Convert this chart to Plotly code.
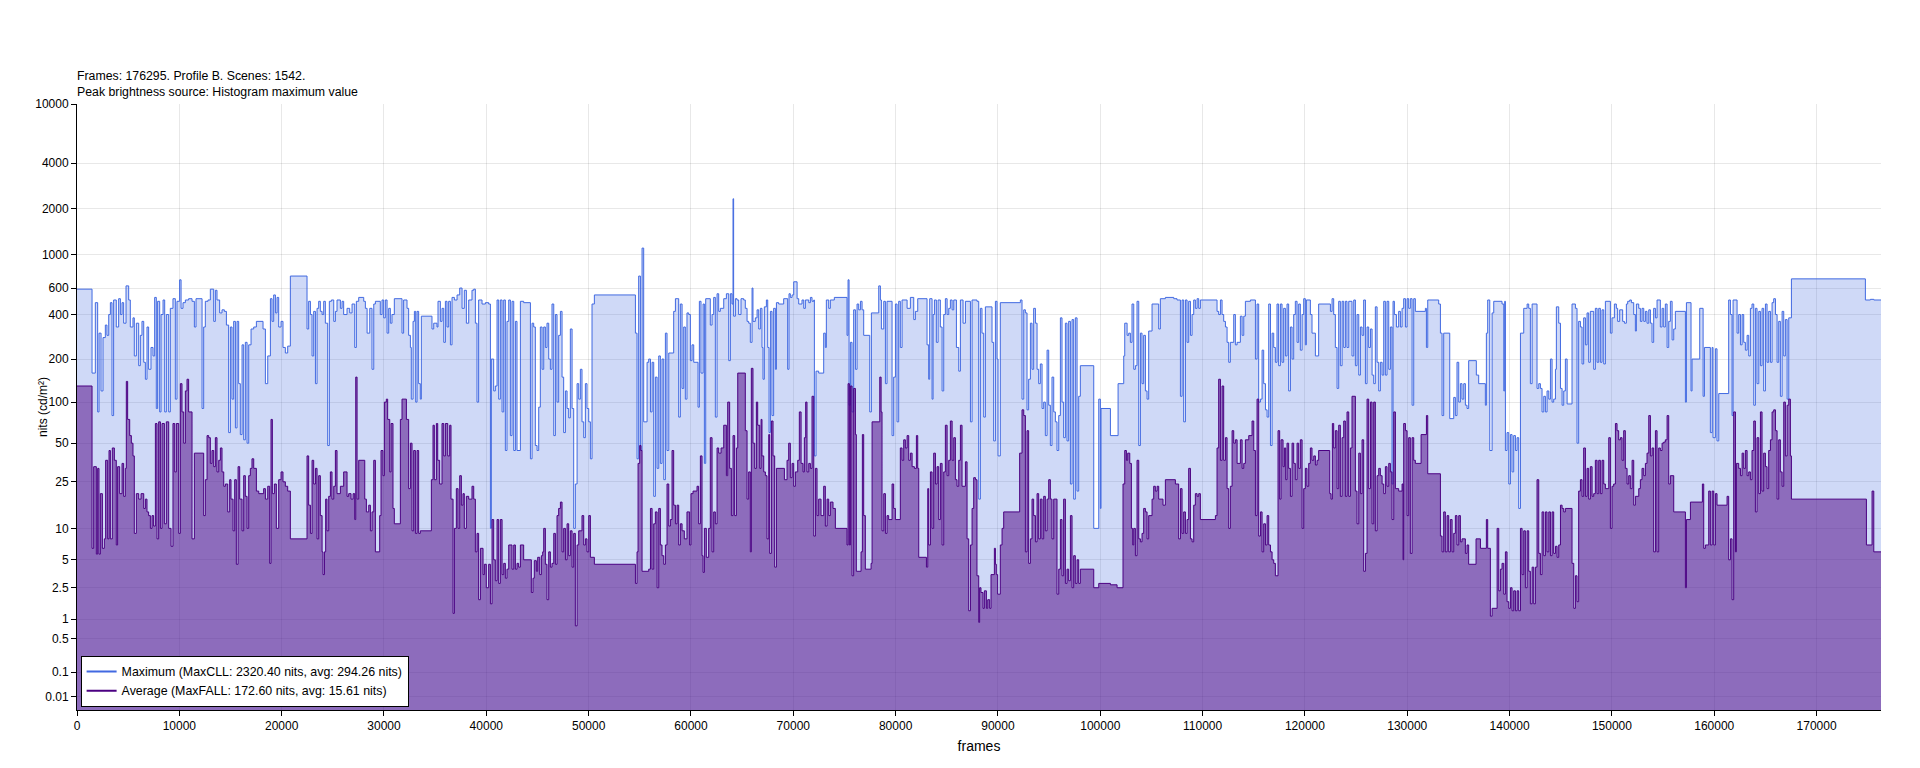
import numpy as np
import plotly.graph_objects as go

# ---- data (frame where a scene starts, nits) ----
total_frames = 176295
title_lines = ["Frames: 176295. Profile B. Scenes: 1542.",
               "Peak brightness source: Histogram maximum value"]
max_name = "Maximum (MaxCLL: 2320.40 nits, avg: 294.26 nits)"
avg_name = "Average (MaxFALL: 172.60 nits, avg: 15.61 nits)"

max_frames = [
    0, 1470, 1790, 2020, 2150, 2350, 2540, 2770, 2930, 3100, 3260, 3420, 3580, 3840, 4070, 4240, 4400, 4560,
    4790, 5050, 5210, 5470, 5600, 5800, 6030, 6190, 6350, 6520, 6680, 6840, 7000, 7230, 7430, 7590, 7750,
    7880, 8080, 8210, 8410, 8570, 8730, 8960, 9120, 9380, 9610, 9770, 10030, 10170, 10360, 10590, 10910,
    11240, 11470, 11630, 12220, 12380, 12540, 12800, 13030, 13360, 13520, 13680, 13940, 14170, 14400, 14600,
    14820, 14990, 15150, 15310, 15480, 15640, 15800, 15960, 16130, 16290, 16450, 16620, 16780, 17010, 17270,
    17530, 18180, 18410, 18640, 18900, 19060, 19220, 19390, 19550, 19710, 19940, 20130, 20360, 20590, 20850,
    22480, 22640, 22810, 22970, 23130, 23300, 23460, 23620, 23780, 23950, 24110, 24270, 24500, 24660, 24860,
    25090, 25250, 25410, 25740, 25900, 26060, 26390, 26650, 26880, 27140, 27300, 27530, 28020, 28180, 28350,
    28610, 28830, 29000, 29160,
    29320, 29640, 29810, 29970, 30130, 30300, 30460, 30620, 30780, 31010, 31760, 31920, 32250, 32410, 32580,
    32670, 32840, 32970, 33100, 33230, 33390, 33550, 33650, 34690, 34860, 35180, 35280, 35510, 35670, 35840,
    36000, 36160, 36320, 36490, 36650, 36880, 37140, 37400, 37630, 37850, 38050, 38280, 38600, 38770, 38930,
    39090, 39250, 39580, 39910, 40230, 40400, 40490, 40720, 40880, 41050, 41210, 41370, 41540, 41700, 41860,
    42020, 42190, 42350, 42510, 42680, 42840, 43000, 43330, 43650, 44310, 44470, 44630, 44790, 44960, 45120,
    45280, 45450, 45610, 45770, 45930, 46100, 46260, 46420, 46590, 46750, 46910, 47070, 47240, 47400, 47560,
    47730, 47890, 48050, 48210, 48380, 48540, 48700, 48870, 49030, 49190, 49350, 49520, 49680, 49840, 50010,
    50170, 50330, 50560, 54570, 54730, 54890, 55060, 55220, 55380, 55710, 55870, 56040, 56200, 56360, 56520,
    56690, 56850, 57010, 57170, 57340, 57500, 57660, 57830, 58310, 58480,
    58640, 58800, 58960, 59130, 59290, 59450, 59610, 59780, 59940, 60100, 60270, 60690, 60820, 60980, 61180,
    61310, 61440, 61890, 62060, 62220, 62380, 62550, 62710, 62870, 63200, 63460, 63690, 63850, 64010, 64110,
    64170, 64340, 64500, 64660, 64890, 65150, 65310, 65480, 65640, 65800, 65970, 66060, 66290, 66460, 66620,
    66780, 66940, 67040, 67170, 67370, 67500, 67630, 67760, 67920, 68080, 68250, 68350, 68570, 69060, 69450,
    69580, 69710, 69880, 70040, 70370, 70530, 70850, 71020, 71180, 71510, 71670, 71830, 72000, 72060, 72220,
    72480, 72970, 73130, 73230, 73460, 73620, 74010, 75250, 75350, 75450, 75580, 75740, 75900, 76070, 76230,
    76390, 76560, 76720, 76880, 77470, 77630, 78350, 78510, 78610, 78840, 79000, 79160, 79650, 79810, 79980,
    80140, 80300, 80460, 80630, 81120, 81440, 81770, 81930, 82160, 83070, 83230, 83330, 83560, 83660, 83790,
    83980, 84150, 84370, 84540, 84700, 84860, 85030, 85190, 85350, 85520, 85680, 85940, 86170, 86330, 86590,
    86820, 87310, 87470,
    87950, 88120, 88280, 88440, 88610, 88770, 89420, 89580, 89750, 89910, 90010, 90230, 92190, 92350, 92520,
    92680, 92840, 93000, 93170, 93330, 93490, 93660, 93820, 93980, 94140, 94310, 94470, 94630, 94800, 94960,
    95120, 95280, 95450, 95610, 95770, 95940, 96100, 96260, 96420, 96590, 96750, 96910, 97080, 97240, 97400,
    97560, 97730, 97890, 98050, 99360, 99850, 100010, 100070, 100990, 101740, 102290, 102390, 102620, 102780,
    102940, 103100, 103270, 103430, 103590, 103760, 103920, 104080, 104240, 104410, 104570, 104730, 105060,
    105710, 105870, 106360, 107180, 107500, 107830, 107990, 108150, 108320, 108480, 108640, 108810, 108970,
    109130, 109290, 109460, 109620, 109780, 111410, 111570, 111740, 111900, 112060, 112230, 112390, 112550,
    112710, 113040, 113200, 113370, 113690, 113860, 114020, 114180, 114670, 115160, 115320, 115480, 115650,
    115810, 115970, 116140, 116300, 116460, 116630, 116790, 116950, 117110,
    117270, 117430, 117600, 117760, 117920, 118090, 118250, 118410, 118580, 118740, 118900, 119060, 119230,
    119390, 119550, 119720, 119880, 120040, 120140, 120530, 120690, 121020, 121340, 122490, 122650, 122810,
    122970, 123140, 123300, 123460, 123630, 123790, 123950, 124110, 124280, 124600, 124770, 124930, 125090,
    125260, 125420, 125580, 125740, 125910, 126070, 126230, 126400, 126560, 126720, 126880, 127050, 127210,
    127370, 127540, 127700, 127860, 128020, 128190, 128350, 128510, 128610, 128740, 128940, 129160, 129330,
    129490, 129650, 129820, 129980, 130140, 130300, 130470, 130630, 130790, 131770, 131870, 132000, 133070,
    133240, 133400, 133560, 134150, 134540, 134700, 134860, 135030, 135190, 135350, 135520, 135680, 135840,
    136000, 136750, 136980, 137630, 137730, 137860, 138060, 138290, 138450, 139260, 139430, 139520, 139590,
    139750, 139920, 140080, 140240, 140400, 140570, 140730, 140890, 141060, 141380, 141710, 141870, 142030,
    142200, 142680, 142850, 143010, 143170, 143340, 143500, 143660, 143830, 143990, 144150, 144310, 144480,
    144570, 144800, 144970, 145130, 145290, 145450, 145620, 146100, 146430,
    146590, 146750, 146920, 147080, 147240, 147410, 147570, 147730, 147890, 148220, 148380, 148550, 148710,
    148870, 149030, 149200, 149360, 149850, 150010, 150240, 150430, 150560, 150760, 151050, 151220, 151410,
    151540, 151740, 151900, 152130, 152290, 152390, 152620, 152780, 152940, 153110, 153270, 153430, 153600,
    153760, 153920, 154080, 154250, 154410, 154730, 154900, 155060, 155220, 155390, 155550, 155710, 155880,
    156040, 156200, 157180, 157280, 157730, 157830, 158580, 158910, 159040, 159620, 159790, 159880, 160110,
    160270, 160440, 161410, 161580, 161740, 161840, 162230, 162390, 162560, 162720, 162880, 163040, 163210,
    163370, 163530, 163690, 163860, 164020, 164180, 164350, 164510, 164670, 164830, 165000, 165160, 165320,
    165490, 165650, 165810, 165980, 166140, 166300, 166460, 166630, 166790, 166950, 167120, 167280, 167540,
    174770, 175260, 175590, 176295,
]
max_nits = [
    590, 160, 480, 85, 300, 120, 280, 340, 290, 400, 480, 80, 500, 330, 510, 400, 480, 350,
    620, 500, 330, 380, 210, 350, 180, 290, 360, 190, 145, 330, 170, 240, 210, 520, 90,
    490, 85, 400, 500, 85, 400, 85, 440, 510, 105, 490, 680, 440, 480, 500, 510,
    490, 330, 510, 90, 330, 490, 500, 590, 360, 580, 500, 410, 430, 420, 340,
    60, 330, 105, 360, 65, 360, 135, 58, 250, 53, 260, 50, 250, 320, 330,
    360, 320, 135, 210, 510, 360, 540, 410, 520, 330, 360, 240, 220, 245, 720,
    320, 490, 400, 210, 420, 135, 440, 490, 420, 400, 490, 350, 48, 490, 500,
    360, 420, 500, 440, 490, 400, 440, 410, 470, 240, 490, 520, 490, 440, 300,
    440, 170, 470, 490,
    490, 400, 500, 380, 500, 300, 440, 350, 400, 510, 300, 500, 440, 290, 240,
    105, 360, 420, 100, 420, 135, 105, 390, 320, 350, 330, 490, 360, 440, 260,
    490, 330, 490, 250, 520, 500, 540, 600, 440, 580, 350, 500, 580, 590, 350,
    100, 500, 470, 480, 470, 10, 200, 120, 130, 500, 105, 500, 85, 500, 44,
    360, 500, 57, 490, 44, 360, 44, 490, 480, 38, 350, 330, 48, 44, 92,
    330, 170, 330, 240, 350, 200, 170, 470, 57, 400, 100, 290, 420, 150, 60,
    120, 90, 77, 320, 90, 10, 24, 135, 105, 170, 72, 55, 135, 90, 72,
    38, 470, 540, 300, 38, 720, 44, 1100, 72, 190, 200, 85, 190, 19, 150,
    32, 210, 35, 200, 26, 300, 44, 220, 420, 510,
    510, 78, 470, 125, 330, 105, 410, 400, 195, 250, 190, 92, 490, 160, 470,
    35, 510, 340, 400, 520, 78, 550, 420, 440, 510, 550, 195, 550, 470, 2320.4,
    390, 510, 500, 400, 510, 500, 440, 360, 350, 260, 600, 360, 380, 430, 320,
    440, 240, 145, 450, 500, 240, 60, 420, 80, 440, 170, 480, 470, 510, 170,
    550, 520, 540, 660, 510, 470, 500, 440, 500, 480, 520, 490, 500, 40, 165,
    160, 300, 240, 500, 440, 500, 520, 290, 680, 95, 260, 85, 430, 170, 470,
    430, 490, 430, 290, 85, 410, 620, 500, 320, 490, 135, 490, 57, 150, 470,
    72, 490, 240, 500, 440, 520, 370, 420, 510, 250, 145, 510, 105, 400, 500,
    260, 500, 330, 120, 400, 510, 400, 440, 500, 430, 500, 240, 165, 500, 350,
    490, 72, 500,
    490, 18, 440, 300, 78, 450, 260, 52, 490, 200, 40, 480, 500, 105, 430,
    410, 88, 145, 350, 170, 440, 350, 170, 135, 185, 90, 100, 57, 230, 95,
    48, 150, 85, 72, 44, 80, 380, 100, 55, 350, 52, 360, 24, 370, 18,
    380, 21, 110, 180, 10, 105, 15, 90, 57, 135, 210, 350, 290, 300,
    260, 470, 170, 180, 490, 48, 300, 135, 290, 120, 105, 310, 470,
    320, 510, 520, 510, 500, 110, 500, 72, 500, 260, 490, 290, 400,
    500, 440, 510, 440, 500, 420, 400, 500, 400, 360, 330, 260, 190,
    260, 400, 250, 260, 390, 290, 390, 490, 500, 200, 470, 100, 105,
    230, 135, 88, 78, 470, 48, 300, 240, 190,
    470, 180, 470, 190, 440, 210, 470, 120, 330, 200, 400, 490, 260,
    470, 230, 400, 510, 250, 500, 400, 300, 210, 470, 420, 510, 400,
    240, 125, 490, 180, 490, 240, 490, 240, 490, 210, 500, 180, 400,
    155, 330, 290, 500, 135, 330, 240, 320, 155, 135, 450, 190, 120,
    190, 155, 490, 155, 490, 170, 330, 24, 490, 400, 330, 420, 330,
    440, 510, 330, 510, 440, 510, 95, 510, 420, 440, 240, 500, 470,
    300, 80, 300, 76, 108, 80, 190, 100, 135, 105, 135, 95, 90,
    195, 155, 135, 95, 300, 500, 44, 410, 490, 470, 120, 490, 44,
    60, 24, 58, 30, 57, 44, 55, 15, 300, 440, 470, 440, 135,
    470, 125, 135, 125, 85, 110, 85, 120, 105, 200, 100, 105, 170,
    450, 350, 125, 95, 120, 200, 97, 470, 440,
    50, 360, 330, 185, 380, 250, 410, 190, 420, 170, 440, 190, 440,
    190, 430, 185, 490, 300, 380, 470, 440, 360, 430, 360, 350, 470,
    490, 500, 480, 400, 310, 470, 440, 360, 440, 360, 420, 350, 430,
    350, 260, 440, 380, 500, 330, 440, 330, 470, 240, 360, 490, 270,
    320, 420, 100, 480, 120, 200, 440, 110, 240, 60, 240, 55, 235,
    52, 115, 500, 400, 80, 500, 300, 400, 250, 400, 260, 230, 290,
    210, 440, 470, 95, 440, 135, 420, 180, 440, 120, 470, 190, 420,
    190, 480, 510, 400, 190, 360, 110, 420, 210, 370, 105, 380, 690,
    500, 505, 500, 500,
]

avg_frames = [
    0, 1470, 1630, 1890, 2020, 2150, 2280, 2480, 2670, 2800, 3000, 3130, 3260, 3450, 3650, 3840, 3970, 4170,
    4400, 4560, 4720, 4820, 4950, 5150, 5310, 5470, 5600, 5800, 6030, 6260, 6520, 6680, 6840, 7000, 7170,
    7330, 7490, 7660, 7820, 7980, 8150, 8310, 8540, 8730, 8960, 9190, 9380, 9550, 9710, 9940, 10100, 10260,
    10430, 10590, 10750, 10910, 11240, 11470, 12380, 12540, 12710, 12870, 13030, 13190, 13360, 13520, 13680,
    13850, 14010, 14170, 14340, 14500, 14730, 14920, 15050, 15250, 15410, 15570, 15740, 15900, 16130, 16290,
    16450, 16620, 16780, 16940, 17100, 17270, 17530, 17760, 18240, 18410, 18640, 18830, 18960, 19090, 19290,
    19480, 19710, 19940, 20130, 20360, 20590, 20850, 22480, 22640, 22810, 22970, 23130, 23300, 23460, 23620,
    23780, 23950, 24040, 24180, 24300, 24430, 24600, 24760, 24920, 25090, 25250, 25410, 25740, 26060, 26390,
    26550, 26780, 26980, 27140, 27240, 27370, 27530, 27950, 28120, 28280, 28510, 28670, 28830, 29000, 29160,
    29320, 29580, 29710, 29900, 30040, 30230, 30360, 30560, 30690, 30880, 31010, 31600, 31760, 32190, 32410,
    32580, 32740, 32900, 33070, 33230, 33390, 33550, 34630, 34790, 34920, 35120, 35250, 35440, 35670, 35840,
    36000, 36230, 36420, 36550, 36750, 36880, 37070, 37240, 37400, 37560, 37720, 37850, 38050, 38280, 38600,
    38770, 38930, 39090, 39250, 39420, 39680, 39810, 40000, 40230, 40400, 40560, 40720, 40880, 41050, 41210,
    41370, 41540, 41700, 41860, 42020, 42190, 42510, 42680, 42840, 43000, 43160, 43330, 43650, 44400, 44560,
    44690, 44890, 45020, 45220, 45380, 45510, 45610, 45770, 45930, 46100, 46260, 46420, 46590, 46750, 46910,
    47070, 47240, 47400, 47560, 47730, 47890, 48050, 48210, 48380, 48540, 48700, 48870, 49030, 49350, 49520,
    49680, 49840, 50010, 50170, 50560, 54570, 54730, 54830, 54990, 55120, 55220, 55870, 56040, 56200, 56360,
    56520, 56690, 56850, 57010, 57170, 57340, 57500, 57660, 57830, 57990, 58150, 58310, 58480,
    58640, 58800, 58960, 59130, 59350, 59610, 59870, 60000, 60200, 60590, 60750, 60920, 61080, 61180, 61310,
    61500, 61730, 61890, 62060, 62220, 62380, 62550, 62710, 62940, 63200, 63460, 63590, 63780, 63950, 64110,
    64270, 64440, 64570, 65310, 65480, 65640, 65800, 65900, 66060, 66230, 66390, 66520, 66720, 66850, 66940,
    67110, 67270, 67430, 67600, 67690, 67860, 68020, 68180, 68350, 69130, 69390, 69550, 69710, 69880, 70040,
    70200, 70430, 70590, 70760, 70950, 71080, 71210, 71340, 71510, 71670, 71830, 72000, 72160, 72320, 72480,
    72710, 72970, 73130, 73300, 73460, 73620, 73880, 74110, 75250, 75350, 75480, 75580, 75740, 75900, 76070,
    76160, 76620, 76750, 76880, 77040, 77600, 77700, 78450, 78580, 78670, 78840, 79000, 79160, 79320, 79650,
    79810, 79980, 80460, 80630, 80790, 80950, 81120, 81280, 81440, 81610, 81830, 82030, 82160, 82260, 83010,
    83140, 83230, 83400, 83560, 83720, 83890, 84050, 84210, 84370, 84540, 84700, 84860, 85030, 85190, 85350,
    85520, 85680, 85840, 86000, 86170, 86330, 86490, 86820, 86980, 87140, 87310, 87470, 87630, 87800,
    87950, 88120, 88210, 88340, 88540, 88670, 88870, 89000, 89190, 89320, 89650, 89750, 89840, 89970, 90230,
    90400, 90560, 92120, 92350, 92520, 92680, 92840, 93000, 93170, 93330, 93490, 93660, 93820, 93980, 94140,
    94310, 94470, 94630, 94800, 94960, 95120, 95280, 95450, 95770, 95940, 96100, 96260, 96420, 96590, 96750,
    96910, 97080, 97240, 97400, 97560, 97730, 97890, 98050, 99360, 99850, 100990, 101640, 102220, 102390,
    102550, 102680, 102880, 103040, 103170, 103270, 103430, 103590, 103760, 103920, 104080, 104240, 104410,
    104570, 104730, 105060, 105220, 105380, 105550, 105710, 106130, 106360, 107340, 107660, 107830, 107990,
    108150, 108320, 108480, 108640, 108810, 108970, 109130, 109290, 109460, 109620, 109780, 111250, 111410,
    111570, 111740, 111900, 112060, 112230, 112390, 112550, 112710, 112880, 113040, 113200, 113370, 113690,
    113860, 114020, 114180, 114510, 114830, 115000, 115160, 115320, 115480, 115650, 115810, 115970, 116140,
    116300, 116460, 116630, 116790, 116950, 117110,
    117270, 117370, 117530, 117660, 117860, 117990, 118120, 118250, 118410, 118580, 118740, 118900, 119060,
    119230, 119390, 119550, 119720, 119880, 120040, 120200, 120370, 120530, 120690, 120860, 121020, 121180,
    121340, 122420, 122550, 122680, 122810, 122970, 123140, 123300, 123460, 123630, 123790, 123950, 124110,
    124280, 124440, 124600, 124930, 125090, 125260, 125420, 125580, 125740, 125910, 126070, 126230, 126400,
    126560, 126720, 126880, 127050, 127210, 127370, 127540, 127700, 127860, 128020, 128190, 128350, 128510,
    128680, 128840, 129160, 129490, 129590, 129650, 129820, 129980, 130140, 130300, 130470, 130630, 130790,
    131350, 131870, 132000, 133240, 133400, 133560, 133720, 133890, 134050, 134210, 134380, 134540, 134700,
    134860, 135030, 135190, 135350, 135680, 135840, 136000, 136720, 137150, 137730, 137860, 138120, 138290,
    138780, 138940, 139100, 139260, 139430, 139590, 139750, 139920, 140080, 140240, 140400, 140570, 140730,
    140890, 141060, 141220, 141380, 141540, 141710, 141870, 142030, 142200, 142360, 142520, 142680, 142850,
    143010, 143170, 143340, 143500, 143660, 143830, 143990, 144150, 144310, 144480, 144640, 144800, 144970,
    145130, 145290, 145450, 146100, 146270, 146430,
    146590, 146750, 146920, 147080, 147240, 147410, 147570, 147730, 147890, 148060, 148220, 148380, 148550,
    148710, 148870, 149030, 149200, 149360, 149690, 149850, 150010, 150170, 150340, 150500, 150660, 150830,
    150990, 151150, 151310, 151480, 151640, 151800, 151970, 152130, 152290, 152620, 152780, 152940, 153110,
    153270, 153430, 153600, 153760, 153920, 154080, 154250, 154410, 154570, 154730, 154900, 155060, 155220,
    155390, 155550, 155710, 156040, 157180, 157280, 157670, 158840, 158970, 159130, 159460, 159620, 159790,
    159950, 160110, 160270, 161250, 161410, 161580, 161740, 161900, 162070, 162160, 162390, 162560, 162720,
    162880, 163040, 163210, 163370, 163530, 163690, 163860, 164020, 164180, 164350, 164510, 164670, 164830,
    165000, 165160, 165320, 165490, 165650, 165810, 165980, 166140, 166300, 166460, 166630, 166790, 166950,
    167120, 167280, 167440, 167540, 174870, 175420, 175590, 176295,
]
avg_nits = [
    130, 6.5, 33, 5.7, 32, 5.7, 20, 6.5, 8, 37, 8, 44, 8, 46, 37, 7, 33, 20,
    35, 19, 32, 140, 75, 57, 50, 40, 9, 20, 18, 20, 15, 18, 14, 13, 10,
    13, 10.5, 70, 8, 72, 10, 70, 11, 72, 10, 6.8, 70, 30, 70, 9, 135, 85,
    50, 120, 145, 85, 8, 42, 13, 26, 57, 55, 35, 44, 33, 55, 30,
    37, 46, 30, 23, 24, 14, 26, 18, 9.5, 26, 4.5, 33, 18, 9.5, 28,
    19, 10, 28, 32, 38, 32, 21, 20, 22, 18, 23, 4.6, 75, 20, 24,
    10, 26, 30, 25, 23, 21, 8, 40, 16, 9, 37, 24, 32, 8, 28,
    13, 6, 3.5, 6, 18, 9.5, 19, 30, 18, 23, 44, 20, 23, 30, 19,
    20, 18, 20, 12, 150, 18, 37, 37, 18, 14, 16, 9.5, 14, 37, 6,
    6, 13, 44, 28, 100, 105, 75, 30, 70, 15, 11, 75, 105, 75, 22,
    50, 9.5, 44, 9, 44, 9, 9.5, 26, 68, 26, 70, 37, 24, 70, 40,
    70, 40, 68, 18, 1.2, 10, 22, 10, 28, 16, 20, 10, 19, 18, 23,
    18, 6, 9, 1.8, 6.5, 3.5, 4.5, 2.5, 4.5, 1.6, 12, 5, 3, 12, 2.8,
    12, 3.5, 4.6, 3.2, 4, 7, 4, 7, 4, 4.6, 4.2, 7, 5, 2.2, 3.2,
    4.9, 3.8, 5.3, 3.5, 5.5, 6, 10, 4.5, 1.8, 6, 4.2, 4.6, 9, 4.5, 13,
    15, 17, 6, 10, 5, 11, 5.5, 9.5, 4.2, 9, 0.8, 7, 9.5, 13, 7,
    8, 6, 13, 5.3, 4.5, 2.8, 6, 35, 48, 44, 3.8, 4, 15, 4, 11,
    14, 2.5, 15, 7, 5.5, 4.5, 7, 24, 10.5, 12, 44, 16, 11,
    16, 7, 11, 9.5, 8, 14, 7, 20, 21, 23, 11, 40, 5.5, 3.7, 10,
    5.3, 10, 55, 6, 14, 11, 46, 42, 46, 68, 28, 100, 32, 13, 57,
    13, 46, 160, 62, 18, 30, 6, 172.6, 50, 32, 100, 68, 32, 75, 40,
    30, 28, 8, 58, 5.8, 73, 40, 4.2, 32, 26, 37, 50, 27, 35, 23,
    30, 37, 85, 35, 30, 55, 100, 30, 35, 32, 110, 8.5, 32, 13, 18,
    13, 23, 10.5, 18, 13, 17, 15, 10, 7, 135, 7, 130, 3.4, 125, 58,
    3.8, 6, 58, 13, 4, 4.6, 72, 150, 85, 9.5, 20, 9, 13, 12, 24,
    15, 12, 46, 37, 53, 46, 57, 37, 42, 33, 32, 57, 32, 5.3, 4.2,
    22, 7, 30, 10, 42, 24, 33, 12, 35, 7, 30, 68, 28, 37, 73,
    37, 55, 26, 23, 37, 68, 23, 36, 8, 1.3, 7, 15, 27, 26,
    3.4, 0.9, 2.5, 2.2, 1.4, 2.3, 1.4, 1.8, 1.4, 3.5, 6.5, 4.5, 3.5, 2.1, 7,
    10, 14, 42, 88, 80, 6, 62, 4.6, 8, 18, 13, 7.5, 20, 8, 18,
    8, 19, 9.5, 18, 26, 18, 8, 18, 2.1, 4, 12, 3.4, 18, 2.8, 4,
    3, 13, 2.5, 5.5, 2.8, 5, 2.8, 4, 2.5, 2.8, 2.7, 2.5, 24, 44,
    37, 42, 35, 10, 7, 10, 5.5, 37, 8, 7.5, 9, 15, 14,
    8, 13, 18, 23, 21, 23, 18, 16, 26, 24, 8, 22, 9,
    14, 9, 12, 32, 8, 7.5, 16, 20, 19, 20, 12, 13, 46,
    145, 37, 130, 37, 55, 22, 10, 23, 62, 50, 53, 35, 53,
    32, 35, 53, 57, 73, 44, 13, 105, 8.5, 14, 6, 11, 7,
    13, 7, 6, 5, 4.6, 3.4,
    3.4, 62, 18, 53, 33, 46, 26, 50, 32, 19, 50, 35, 26,
    50, 32, 53, 10, 22, 32, 23, 35, 46, 37, 40, 34, 37,
    44, 20, 18, 70, 46, 62, 22, 68, 19, 55, 73, 19, 85,
    19, 46, 110, 21, 11, 42, 20, 53, 3.8, 5.8, 105, 22, 100,
    11, 100, 9.5, 28, 32, 28, 24, 20, 33, 23, 35, 30, 12,
    85, 22, 21, 24, 5, 70, 62, 13, 55, 5.8, 55, 37, 35,
    58, 80, 29, 8.5, 6, 14, 6, 13, 6, 12, 6, 9, 13,
    7, 13, 7.5, 8, 5.8, 7, 4.5, 8, 6.5, 12, 6.5, 1.1, 1.4,
    10, 2.3, 4, 4.6, 2.1, 6, 1.7, 1.4, 2.5, 1.3, 2.3, 1.3, 2.3,
    1.3, 10, 3.5, 9.5, 2.5, 9.5, 3.8, 1.6, 4.2, 1.6, 4.2, 26, 5.8,
    3.5, 14, 5.5, 14, 6, 14, 5.5, 14, 5.8, 6.8, 5.3, 7, 16,
    15, 14, 15, 4.6, 1.4, 3.4,
    1.7, 21, 26, 19, 46, 19, 32, 18, 33, 19, 20, 37, 20,
    37, 20, 37, 24, 22, 55, 10, 23, 24, 70, 62, 53, 55,
    37, 62, 32, 24, 28, 22, 37, 16, 19, 22, 26, 32, 28,
    35, 42, 80, 40, 46, 6, 62, 6, 46, 44, 50, 51, 53,
    80, 24, 28, 14, 2.5, 12, 17, 24, 6.5, 7, 21, 7, 21,
    7, 20, 16, 19, 5, 8, 1.8, 85, 6, 35, 32, 28, 42,
    32, 44, 28, 30, 26, 44, 73, 14, 55, 20, 85, 21, 42,
    33, 22, 44, 53, 85, 88, 62, 18, 53, 30, 23, 100, 40,
    95, 105, 40, 18, 7, 21, 6, 6,
]

tick_nits = [0.01, 0.1, 0.5, 1, 2.5, 5, 10, 25, 50, 100, 200, 400, 600, 1000, 2000, 4000, 10000]
tick_text = ["0.01", "0.1", "0.5", "1", "2.5", "5", "10", "25", "50", "100", "200", "400",
             "600", "1000", "2000", "4000", "10000"]


def pq(nits):
    # SMPTE ST 2084 inverse EOTF, nits -> PQ code value 0..1
    m1, m2 = 2610 / 16384, 2523 / 4096 * 128
    c1, c2, c3 = 3424 / 4096, 2413 / 4096 * 32, 2392 / 4096 * 32
    y = np.asarray(nits, dtype=float) / 10000.0
    ym = np.power(y, m1)
    return np.power((c1 + c2 * ym) / (1 + c3 * ym), m2)


MAX_COLOR = "rgb(65,105,225)"
AVG_COLOR = "rgb(75,0,130)"
FONT = "Liberation Sans, Arial, sans-serif"

fig = go.Figure()
fig.add_trace(go.Scatter(
    x=max_frames, y=pq(max_nits), mode="lines", line=dict(color=MAX_COLOR, width=1, shape="hv"),
    fill="tozeroy", fillcolor="rgba(65,105,225,0.25)", showlegend=False, hoverinfo="skip"))
fig.add_trace(go.Scatter(
    x=avg_frames, y=pq(avg_nits), mode="lines", line=dict(color=AVG_COLOR, width=1, shape="hv"),
    fill="tozeroy", fillcolor="rgba(75,0,130,0.5)", showlegend=False, hoverinfo="skip"))
# legend entries (line only)
fig.add_trace(go.Scatter(x=[None], y=[None], mode="lines", name=max_name,
                         line=dict(color=MAX_COLOR, width=2)))
fig.add_trace(go.Scatter(x=[None], y=[None], mode="lines", name=avg_name,
                         line=dict(color=AVG_COLOR, width=2)))

fig.update_layout(
    width=1920, height=768,
    margin=dict(l=77, r=39, t=104, b=58),
    paper_bgcolor="white", plot_bgcolor="white",
    font=dict(family=FONT, size=12, color="black"),
    title=dict(text="<br>".join(title_lines), x=0, xref="paper", xanchor="left",
               y=1 - 80 / 768, yref="container", yanchor="top",
               font=dict(family=FONT, size=12.3, color="black")),
    legend=dict(x=0.002, y=0.005, xanchor="left", yanchor="bottom",
                bgcolor="white", bordercolor="black", borderwidth=1,
                font=dict(family=FONT, size=12.4, color="black"),
                tracegroupgap=0),
    showlegend=True,
    annotations=[dict(text="nits (cd/m²)", textangle=-90, x=-34 / 1804, xref="paper",
                      y=0.5, yref="paper", xanchor="center", yanchor="middle",
                      showarrow=False, font=dict(family=FONT, size=12, color="black"))],
)
fig.update_xaxes(
    range=[0, total_frames], tickmode="linear", tick0=0, dtick=10000, tickformat="d",
    showline=True, linecolor="black", linewidth=1, ticks="outside", ticklen=5, tickcolor="black",
    showgrid=True, gridcolor="rgba(0,0,0,0.09)", zeroline=False,
    title=dict(text="frames", standoff=8),
)
fig.update_yaxes(
    range=[0, 1], tickmode="array", tickvals=pq(tick_nits), ticktext=tick_text,
    showline=True, linecolor="black", linewidth=1, ticks="outside", ticklen=5, tickcolor="black",
    showgrid=True, gridcolor="rgba(0,0,0,0.09)", zeroline=False,
)

fig.write_html("out.html", config={"displayModeBar": False},
               post_script="document.body.style.margin='0';")
